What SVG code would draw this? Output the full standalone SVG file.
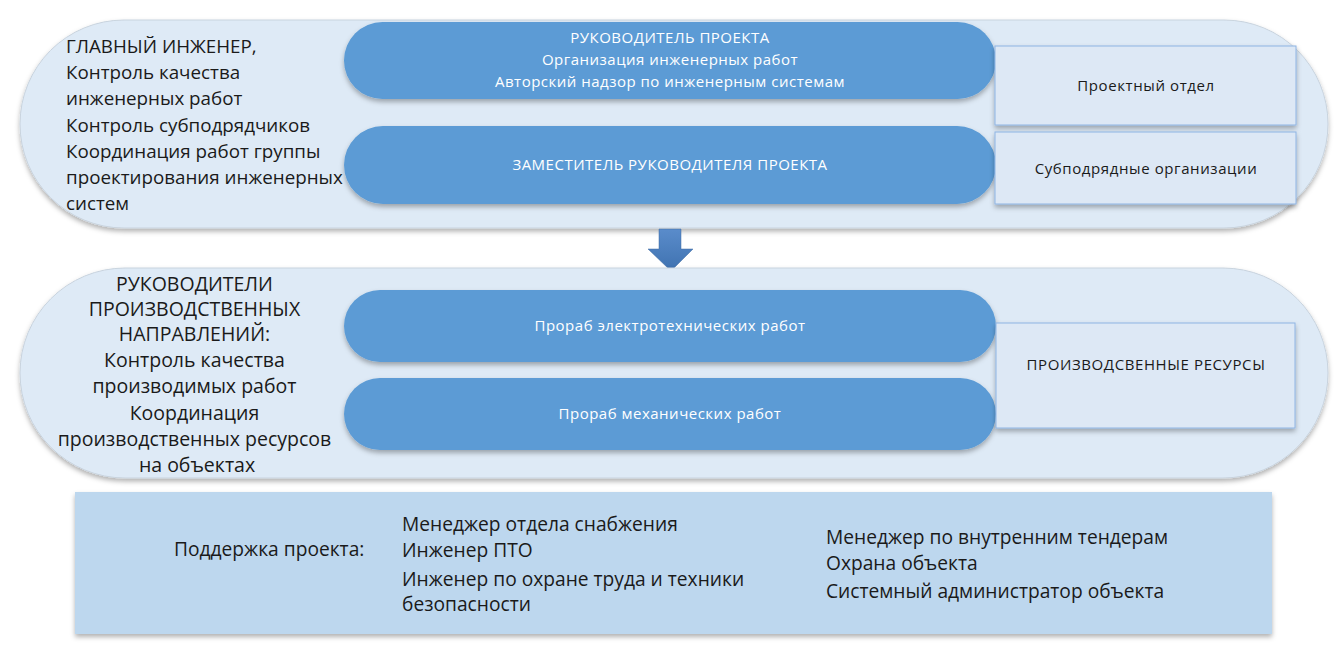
<svg xmlns="http://www.w3.org/2000/svg" width="1339" height="655" viewBox="0 0 1339 655">
<defs>
<filter id="sh" x="-5%" y="-10%" width="110%" height="130%">
<feDropShadow dx="0" dy="3" stdDeviation="2.5" flood-color="#000" flood-opacity="0.3"/>
</filter>
<linearGradient id="ag" x1="0" y1="0" x2="0" y2="1">
<stop offset="0" stop-color="#5a8ccb"/>
<stop offset="1" stop-color="#3f72b0"/>
</linearGradient>
</defs>
<style>
.big{fill:#deeaf6;stroke:#c8d3de;stroke-width:1;filter:url(#sh)}
.pill{fill:#5b9bd5;filter:url(#sh)}
.box{fill:#dde8f5;stroke:#8eb4e3;stroke-width:1;filter:url(#sh)}
.t{font-family:"Open Sans","Liberation Sans",sans-serif;fill:#1a1a1a}
.w{font-family:"Open Sans","Liberation Sans",sans-serif;fill:#ffffff;font-size:15px;letter-spacing:0.5px;text-anchor:middle}
.bt{font-family:"Open Sans","Liberation Sans",sans-serif;fill:#1a1a1a;font-size:15px;letter-spacing:0.6px;text-anchor:middle}
.sp{font-family:"Open Sans","Liberation Sans",sans-serif;fill:#1a1a1a;font-size:19.2px}
</style>

<g id="top-group">
<rect class="big" x="20" y="20" width="1308" height="208" rx="104" ry="104"/>
</g>

<g id="pm">
<rect class="pill" x="344" y="22" width="652" height="77" rx="38.5"/>
<text class="w" x="670" y="43">РУКОВОДИТЕЛЬ ПРОЕКТА</text>
<text class="w" x="670" y="65">Организация инженерных работ</text>
<text class="w" x="670" y="87">Авторский надзор по инженерным системам</text>
</g>

<g id="deputy">
<rect class="pill" x="344" y="126" width="652" height="78" rx="39"/>
<text class="w" x="670" y="170">ЗАМЕСТИТЕЛЬ РУКОВОДИТЕЛЯ ПРОЕКТА</text>
</g>

<g id="chief-engineer">
<text class="t" style="font-size:18.8px">
<tspan x="66" y="53">ГЛАВНЫЙ ИНЖЕНЕР,</tspan>
<tspan x="66" y="79">Контроль качества</tspan>
<tspan x="66" y="105">инженерных работ</tspan>
<tspan x="66" y="132">Контроль субподрядчиков</tspan>
<tspan x="66" y="158">Координация работ группы</tspan>
<tspan x="66" y="184">проектирования инженерных</tspan>
<tspan x="66" y="210">систем</tspan>
</text>
</g>

<g id="design-dept">
<rect class="box" x="995" y="46" width="301" height="79"/>
<text class="bt" x="1146" y="91">Проектный отдел</text>
</g>

<g id="subcontractors">
<rect class="box" x="995" y="132" width="301" height="72"/>
<text class="bt" x="1146" y="174">Субподрядные организации</text>
</g>

<g id="connectors">
<path d="M659 229 H681 V249 H693 L671 271 L648 249 H659 Z" fill="url(#ag)" stroke="#3c6aa3" stroke-width="0.5"/>
</g>

<g id="prod-group">
<rect class="big" x="20" y="268" width="1308" height="210" rx="105" ry="105"/>
<text class="t" style="font-size:19.5px" text-anchor="middle">
<tspan x="197" y="291">РУКОВОДИТЕЛИ</tspan>
<tspan x="197" y="316">ПРОИЗВОДСТВЕННЫХ</tspan>
<tspan x="197" y="341">НАПРАВЛЕНИЙ:</tspan>
<tspan x="197" y="367">Контроль качества</tspan>
<tspan x="197" y="393">производимых работ</tspan>
<tspan x="197" y="420">Координация</tspan>
<tspan x="197" y="446">производственных ресурсов</tspan>
<tspan x="197" y="472">на объектах</tspan>
</text>
</g>

<g id="foreman-el">
<rect class="pill" x="344" y="290" width="652" height="72" rx="36"/>
<text class="w" x="670" y="331">Прораб электротехнических работ</text>
</g>

<g id="foreman-mech">
<rect class="pill" x="344" y="378" width="652" height="72" rx="36"/>
<text class="w" x="670" y="419">Прораб механических работ</text>
</g>

<g id="resources">
<rect class="box" x="996" y="323" width="299" height="105"/>
<text class="bt" x="1146" y="370">ПРОИЗВОДСВЕННЫЕ РЕСУРСЫ</text>
</g>

<g id="support">
<rect x="75" y="492" width="1197" height="142" fill="#bdd7ee" filter="url(#sh)"/>
<text class="sp" x="174" y="556">Поддержка проекта:</text>
<text class="sp">
<tspan x="402" y="531">Менеджер отдела снабжения</tspan>
<tspan x="402" y="557">Инженер ПТО</tspan>
<tspan x="402" y="586">Инженер по охране труда и техники</tspan>
<tspan x="402" y="611">безопасности</tspan>
</text>
<text class="sp">
<tspan x="826" y="544">Менеджер по внутренним тендерам</tspan>
<tspan x="826" y="570">Охрана объекта</tspan>
<tspan x="826" y="598">Системный администратор объекта</tspan>
</text>
</g>
</svg>
